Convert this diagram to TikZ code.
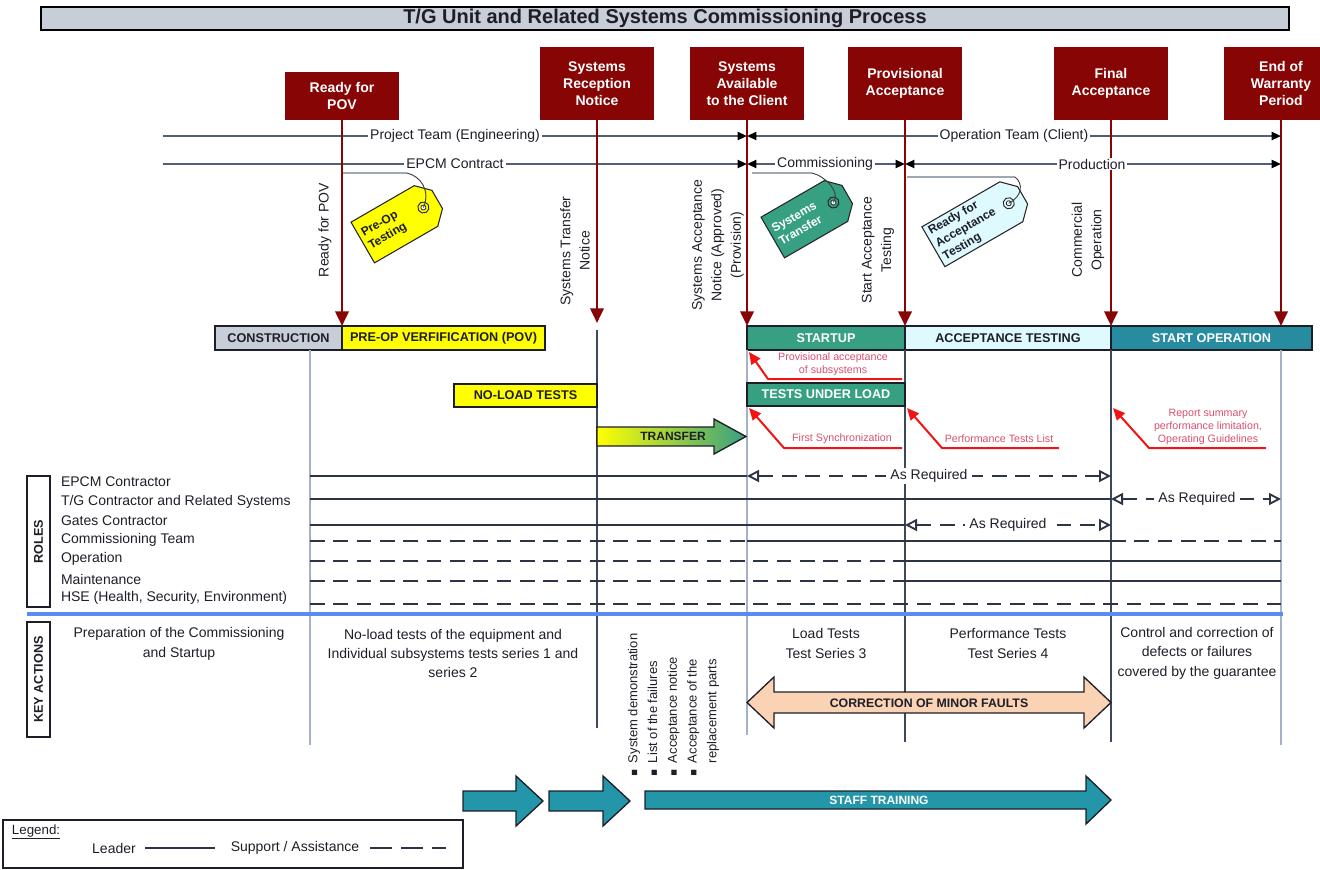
\documentclass[tikz,border=0pt]{standalone}
\usepackage{fontspec}
\setmainfont{Liberation Sans}
\newfontfamily\dejavu{DejaVu Sans}
\usetikzlibrary{arrows.meta}
\definecolor{mred}{RGB}{135,5,5}
\definecolor{titlefill}{RGB}{200,206,216}
\definecolor{consfill}{RGB}{200,206,216}
\definecolor{povyel}{RGB}{255,255,0}
\definecolor{stgreen}{RGB}{55,160,130}
\definecolor{accfill}{RGB}{222,250,255}
\definecolor{opteal}{RGB}{40,140,160}
\definecolor{trteal}{RGB}{35,150,170}
\definecolor{peach}{RGB}{250,210,180}
\definecolor{sepblue}{RGB}{90,140,240}
\definecolor{vlightc}{RGB}{165,178,198}
\definecolor{vdarkc}{RGB}{60,72,92}
\definecolor{roleln}{RGB}{45,52,70}
\definecolor{tlc}{RGB}{80,95,120}
\definecolor{annc}{RGB}{215,80,110}
\definecolor{annred}{RGB}{240,20,20}
\definecolor{taglinec}{RGB}{160,168,180}
\definecolor{ink}{RGB}{30,30,40}

\newcommand\drawtag[9]{%
  \begin{scope}[shift={(#1,#2)},rotate=#3]
    \draw[fill=#6,draw=black!85,line width=0.8pt]
      ({-#4/2},{-#5/2}) -- ({#4/2-13},{-#5/2}) -- ({#4/2},{-#5/2+13})
      -- ({#4/2},{#5/2-13}) -- ({#4/2-13},{#5/2}) -- ({-#4/2},{#5/2}) -- cycle;
    \coordinate (#7) at ({#4/2-16},0);
    \draw[fill=#6,draw=black!85,line width=0.7pt] (#7) circle[radius=4.2pt];
    \draw[fill=white,draw=black!85,line width=0.6pt] (#7) circle[radius=1.9pt];
    \node[tagtxt,text=#8,rotate=#3,anchor=west] (#7txt) at ({-#4/2+4},0) {#9};
  \end{scope}}

\begin{document}
\begin{tikzpicture}[x=0.75pt,y=-0.75pt,
  every node/.style={inner sep=0pt,outer sep=0pt},
  mile/.style={fill=mred,text=white,font=\bfseries\fontsize{10.5}{12.75}\selectfont,align=center,minimum width=85.5pt},
  redarr/.style={draw=mred,line width=2pt,-{Triangle[width=10pt,length=11pt]}},
  tl/.style={draw=tlc,line width=1.5pt,>={Triangle[width=6pt,length=7pt,color=black]}},
  tlab/.style={fill=white,inner xsep=1.5pt,inner ysep=1pt,font=\fontsize{10.5}{12}\selectfont,text=ink},
  rot/.style={rotate=90,align=center,font=\fontsize{10.5}{14.6}\selectfont,text=ink},
  phase/.style={draw=ink,line width=0.9pt,minimum height=18pt,font=\bfseries\fontsize{9.5}{11}\selectfont},
  ann/.style={text=annc,font=\fontsize{8}{9.75}\selectfont,align=center},
  annarr/.style={draw=annred,line width=1.5pt,line join=round,-{Triangle[width=8pt,length=9pt]}},
  vlight/.style={draw=vlightc,line width=0.8pt},
  vdark/.style={draw=vdarkc,line width=0.8pt},
  rl/.style={anchor=west,font=\fontsize{10.5}{12}\selectfont,text=ink},
  leadline/.style={draw=roleln,line width=1.4pt},
  supline/.style={draw=roleln,line width=1.4pt,dash pattern=on 11pt off 6.5pt},
  asreq/.style={<->,>={Triangle[open,width=9pt,length=9pt]}},
  reqlab/.style={fill=white,inner xsep=3pt,inner ysep=1pt,font=\fontsize{10.5}{12}\selectfont,text=ink},
  ka/.style={align=center,font=\fontsize{10.5}{14.6}\selectfont,text=ink},
  blk/.style={draw=ink,line width=1pt},
  boldtxt/.style={font=\bfseries\fontsize{9.25}{11}\selectfont,text=ink},
  tagtxt/.style={align=left,font=\bfseries\fontsize{9}{11}\selectfont},
  tagstr/.style={draw=black!75,line width=0.7pt},
  tagbar/.style={draw=taglinec,line width=1.3pt},
  sidebox/.style={draw=ink,line width=1pt,rotate=90,minimum height=17.25pt,font=\bfseries\fontsize{9.5}{11}\selectfont,text=ink}
]
\useasboundingbox (0,0) rectangle (1320,869);

% ---------- title ----------
\node[draw=black,line width=1pt,fill=titlefill,minimum width=936pt,minimum height=17.25pt,
      font=\bfseries\fontsize{15}{16}\selectfont,text=ink] (title) at (665,18.5)
      {T/G Unit and Related Systems Commissioning Process};

% ---------- milestones ----------
\node[mile,minimum height=36pt] (m1) at (342,96) {Ready for\\POV};
\node[mile,minimum height=54.75pt] (m2) at (597,83.5) {Systems\\Reception\\Notice};
\node[mile,minimum height=54.75pt] (m3) at (747,83.5) {Systems\\Available\\to the Client};
\node[mile,minimum height=54.75pt] (m4) at (905,83.5) {Provisional\\Acceptance};
\node[mile,minimum height=54.75pt] (m5) at (1111,83.5) {Final\\Acceptance};
\node[mile,minimum height=54.75pt] (m6) at (1281,83.5) {End of\\Warranty\\Period};

% ---------- phase bars ----------
\node[phase,fill=consfill,text=ink,minimum width=95.25pt] (cons) at (278.5,338) {CONSTRUCTION};
\node[phase,fill=povyel,text=ink,minimum width=152.25pt] (pov) at (443.5,338) {PRE-OP VERFIFICATION (POV)};
\node[phase,fill=stgreen,text=white,minimum width=118.5pt] (stp) at (826,338) {STARTUP};
\node[phase,fill=accfill,text=ink,minimum width=154.5pt] (acc) at (1008,338) {ACCEPTANCE TESTING};
\node[phase,fill=opteal,text=white,minimum width=150.75pt] (sop) at (1211.5,338) {START OPERATION};

% ---------- vertical thin lines ----------
\coordinate (v1t) at (310,350); \coordinate (v1b) at (310,745);
\coordinate (v2t) at (597,330); \coordinate (v2b) at (597,728);
\coordinate (v3b) at (747,735);
\coordinate (v4b) at (905,742);
\coordinate (v5b) at (1111,742);
\coordinate (v6t) at (1281,350); \coordinate (v6b) at (1281,745);
\draw[vlight] (v1t) -- (v1b);
\draw[vdark] (v2t) -- (v2b);
\draw[vlight] (stp.south west) -- (v3b);
\draw[vdark] (stp.south east) -- (v4b);
\draw[vdark] (acc.south east) -- (v5b);
\draw[vlight] (v6t) -- (v6b);

% ---------- timeline lines ----------
\coordinate (t1a) at (163,136); \coordinate (t1b) at (747,136); \coordinate (t1c) at (1281,136);
\coordinate (t2a) at (163,164); \coordinate (t2b) at (747,164); \coordinate (t2c) at (905,164); \coordinate (t2d) at (1281,164);
\draw[tl,->] (t1a) -- (t1b);
\draw[tl,<->] (t1b) -- (t1c);
\draw[tl,->] (t2a) -- (t2b);
\draw[tl,<->] (t2b) -- (t2c);
\draw[tl,<->] (t2c) -- (t2d);

% ---------- milestone arrows ----------
\coordinate (e2) at (597,323);
\coordinate (e6) at (1281,326);
\draw[redarr] (m1.south) -- (pov.north west);
\draw[redarr] (m2.south) -- (e2);
\draw[redarr] (m3.south) -- (stp.north west);
\draw[redarr] (m4.south) -- (stp.north east);
\draw[redarr] (m5.south) -- (acc.north east);
\draw[redarr] (m6.south) -- (e6);

% timeline labels
\node[tlab] (lpt) at (455,136) {Project Team (Engineering)};
\node[tlab] (lot) at (1014,136) {Operation Team (Client)};
\node[tlab] (lep) at (455,164) {EPCM Contract};
\node[tlab] (lcm) at (825,164) {Commissioning};
\node[tlab] (lpr) at (1092,164) {Production};

% ---------- tags ----------
\drawtag{400}{221}{30}{86}{47}{povyel}{hole1}{ink}{Pre-Op\\Testing}
\drawtag{810}{216}{30}{86}{47}{stgreen}{hole2}{white}{Systems\\Transfer}
\drawtag{978}{221}{30}{103}{46}{accfill}{hole3}{ink}{Ready for\\Acceptance\\Testing}
\coordinate (s1a) at (343,173); \coordinate (s1b) at (407,173);
\coordinate (s2a) at (752,173); \coordinate (s2b) at (812,173);
\coordinate (s3a) at (907,177); \coordinate (s3b) at (1015,177);
\draw[tagbar] (s1a) -- (s1b);
\draw[tagbar] (s2a) -- (s2b);
\draw[tagbar] (s3a) -- (s3b);
\draw[tagstr] (s1b) .. controls (420,176) and (431,190) .. (hole1);
\draw[tagstr] (s2b) .. controls (825,176) and (841,192) .. (hole2);
\draw[tagstr] (s3b) .. controls (1023,183) and (1023,196) .. (hole3);

% ---------- rotated notes ----------
\node[rot] (n1) at (325,230) {Ready for POV};
\node[rot] (n2) at (575,251) {Systems Transfer\\Notice};
\node[rot] (n3) at (718,245) {Systems Acceptance\\Notice (Approved)\\(Provision)};
\node[rot] (n4) at (878,250) {Start Acceptance\\Testing};
\node[rot] (n5) at (1088,240) {Commercial\\Operation};

% ---------- secondary bars ----------
\node[phase,fill=povyel,text=ink,minimum width=107.25pt,minimum height=17.25pt] (nlt) at (525.5,395.5) {NO-LOAD TESTS};
\node[phase,fill=stgreen,text=white,minimum width=118.5pt,minimum height=17.25pt] (tul) at (826,394.5) {TESTS UNDER LOAD};

% transfer arrow
\draw[blk,left color=povyel,right color=stgreen] (597,427) -- (714,427) -- (714,419) -- (746,436.5) -- (714,454) -- (714,446) -- (597,446) -- cycle;
\node[font=\bfseries\fontsize{9}{10}\selectfont,text=ink] (trf) at (673,436.5) {TRANSFER};

% ---------- red annotations ----------
\node[ann] (a1) at (833,364.5) {Provisional acceptance\\of subsystems};
\coordinate (a1r) at (902,379); \coordinate (a1k) at (768,379); \coordinate (a1t) at (749,352);
\draw[annarr] (a1r) -- (a1k) -- (a1t);
\node[ann] (a2) at (842,439) {First Synchronization};
\coordinate (a2r) at (902,448); \coordinate (a2k) at (784,448); \coordinate (a2t) at (749,408);
\draw[annarr] (a2r) -- (a2k) -- (a2t);
\node[ann] (a3) at (999,439) {Performance Tests List};
\coordinate (a3r) at (1059,448); \coordinate (a3k) at (942,448); \coordinate (a3t) at (907,408);
\draw[annarr] (a3r) -- (a3k) -- (a3t);
\node[ann] (a4) at (1208,427) {Report summary\\performance limitation,\\Operating Guidelines};
\coordinate (a4r) at (1266,448); \coordinate (a4k) at (1149,448); \coordinate (a4t) at (1113,408);
\draw[annarr] (a4r) -- (a4k) -- (a4t);

% ---------- roles ----------
\node[sidebox,minimum width=98.25pt] (roles) at (38.5,541.5) {ROLES};
\node[rl] (r1) at (61,482) {EPCM Contractor};
\node[rl] (r2) at (61,502) {T/G Contractor and Related Systems};
\node[rl] (r3) at (61,521) {Gates Contractor};
\node[rl] (r4) at (61,540) {Commissioning Team};
\node[rl] (r5) at (61,559) {Operation};
\node[rl] (r6) at (61,579) {Maintenance};
\node[rl] (r7) at (61,598) {HSE (Health, Security, Environment)};

\coordinate (p1a) at (310,476); \coordinate (p1b) at (747,476); \coordinate (p1c) at (1111,476);
\draw[leadline] (p1a) -- (p1b);
\draw[supline,asreq] (p1b) -- (p1c);
\node[reqlab] (q1) at (929,476) {As Required};

\coordinate (p2a) at (310,499); \coordinate (p2b) at (1111,499); \coordinate (p2c) at (1281,499);
\draw[leadline] (p2a) -- (p2b);
\draw[supline,asreq] (p2b) -- (p2c);
\node[reqlab] (q2) at (1197,499) {As Required};

\coordinate (p3a) at (310,525); \coordinate (p3b) at (905,525); \coordinate (p3c) at (1111,525);
\draw[leadline] (p3a) -- (p3b);
\draw[supline,asreq] (p3b) -- (p3c);
\node[reqlab] (q3) at (1008,525) {As Required};

\coordinate (p4a) at (310,541); \coordinate (p4b) at (747,541); \coordinate (p4c) at (1111,541); \coordinate (p4d) at (1281,541);
\draw[supline] (p4a) -- (p4b);
\draw[leadline] (p4b) -- (p4c);
\draw[supline] (p4c) -- (p4d);

\coordinate (p5a) at (310,561); \coordinate (p5b) at (905,561); \coordinate (p5c) at (1281,561);
\draw[supline] (p5a) -- (p5b);
\draw[leadline] (p5b) -- (p5c);

\coordinate (p6a) at (310,581); \coordinate (p6b) at (905,581); \coordinate (p6c) at (1281,581);
\draw[supline] (p6a) -- (p6b);
\draw[leadline] (p6b) -- (p6c);

\coordinate (p7a) at (310,604); \coordinate (p7b) at (1281,604);
\draw[supline,line width=1.9pt] (p7a) -- (p7b);

% separator
\coordinate (sepa) at (27,614); \coordinate (sepb) at (1283,614);
\draw[draw=sepblue,line width=2.6pt] (sepa) -- (sepb);

% ---------- key actions ----------
\node[sidebox,minimum width=86.25pt] (kact) at (38.5,679.5) {KEY ACTIONS};
\node[ka] (k1) at (179,644) {Preparation of the Commissioning\\and Startup};
\node[ka] (k2) at (453,653.5) {No-load tests of the equipment and\\Individual subsystems tests series 1 and\\series 2};
\node[ka] (k3) at (826,643.5) {Load Tests\\Test Series 3};
\node[ka] (k4) at (1008,643.5) {Performance Tests\\Test Series 4};
\node[ka] (k5) at (1197,653) {Control and correction of\\defects or failures\\covered by the guarantee};

\node[rotate=90,anchor=west,align=left,font=\fontsize{9.75}{14.8}\selectfont,text=ink] (klist) at (673.5,776)
 {\makebox[9.75pt][l]{{\dejavu\fontsize{8}{14.8}\selectfont ▪}}System demonstration\\
  \makebox[9.75pt][l]{{\dejavu\fontsize{8}{14.8}\selectfont ▪}}List of the failures\\
  \makebox[9.75pt][l]{{\dejavu\fontsize{8}{14.8}\selectfont ▪}}Acceptance notice\\
  \makebox[9.75pt][l]{{\dejavu\fontsize{8}{14.8}\selectfont ▪}}Acceptance of the\\
  \makebox[9.75pt][l]{}replacement parts};

% correction arrow
\draw[blk,fill=peach] (747,702.5) -- (774,677) -- (774,692) -- (1084,692) -- (1084,677) -- (1111,702.5)
  -- (1084,728) -- (1084,713) -- (774,713) -- (774,728) -- cycle;
\node[boldtxt] (cmf) at (929,703) {CORRECTION OF MINOR FAULTS};

% staff training arrows
\draw[blk,fill=trteal] (463,791) -- (516,791) -- (516,776) -- (543,801) -- (516,826) -- (516,811) -- (463,811) -- cycle;
\draw[blk,fill=trteal] (549,791) -- (603,791) -- (603,776) -- (630,801) -- (603,826) -- (603,811) -- (549,811) -- cycle;
\draw[blk,fill=trteal] (645,791) -- (1086,791) -- (1086,776) -- (1111,800) -- (1086,824) -- (1086,809) -- (645,809) -- cycle;
\node[font=\bfseries\fontsize{9}{10}\selectfont,text=white] (stt) at (879,800) {STAFF TRAINING};

% ---------- legend ----------
\node[draw=ink,line width=1pt,minimum width=345pt,minimum height=36pt] (leg) at (233,844) {};
\node[anchor=west,font=\fontsize{10}{12}\selectfont,text=ink] (legt) at (12,832) {\underline{Legend:}};
\node[font=\fontsize{10.5}{12}\selectfont,text=ink] (lgl) at (114,848) {Leader};
\coordinate (lg1a) at (145,848); \coordinate (lg1b) at (215,848);
\draw[draw=roleln,line width=1.2pt] (lg1a) -- (lg1b);
\node[font=\fontsize{10.5}{12}\selectfont,text=ink] (lgs) at (295,848) {Support / Assistance};
\coordinate (lg2a) at (370,848); \coordinate (lg2b) at (446,848);
\draw[draw=roleln,line width=1.2pt,dash pattern=on 16.5pt off 6.75pt] (lg2a) -- (lg2b);
\end{tikzpicture}
\end{document}
